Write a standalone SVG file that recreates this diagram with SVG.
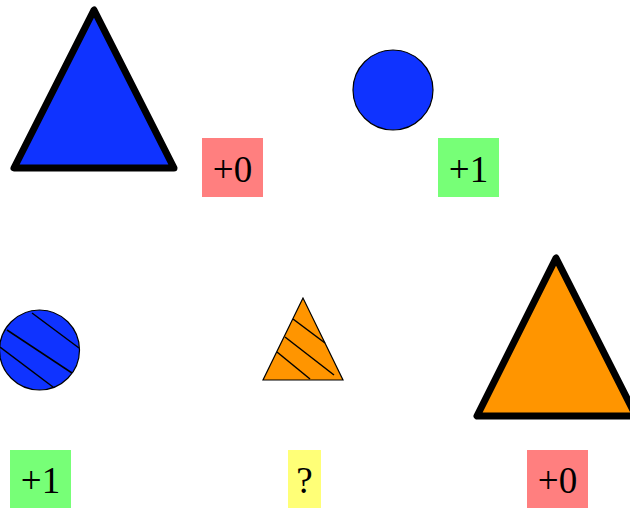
<svg xmlns="http://www.w3.org/2000/svg" width="630" height="508" viewBox="0 0 630 508">
<style>
.blue{fill:#0f33ff}
.orange{fill:#ff9500}
.thick{stroke:#000;stroke-width:7;stroke-linejoin:round}
.thin{stroke:#000;stroke-width:1.2}
.hatch{stroke:#000;stroke-width:1.5;fill:none}
.red{fill:#ff7f7f}
.green{fill:#77ff77}
.yellow{fill:#ffff77}
text{font-family:"Liberation Serif","Times New Roman",serif;font-size:37px;fill:#000;text-anchor:middle}
</style>
<rect width="630" height="508" fill="#fff"/>
<g id="tri-blue-big">
<polygon class="blue thick" points="94,10 14,168 174,168"/>
</g>
<g id="label-a">
<rect class="red" x="202" y="138" width="61" height="59"/>
<text x="232.5" y="182">+0</text>
</g>
<g id="circle-blue">
<circle class="blue thin" cx="393" cy="90" r="40"/>
</g>
<g id="label-b">
<rect class="green" x="438" y="138" width="61" height="59"/>
<text x="468.5" y="182">+1</text>
</g>
<g id="circle-hatched">
<circle class="blue thin" cx="39.5" cy="350" r="40"/>
<line class="hatch" x1="32" y1="313" x2="79" y2="348"/>
<line class="hatch" x1="7" y1="330" x2="72" y2="373"/>
<line class="hatch" x1="0" y1="347" x2="53" y2="387"/>
</g>
<g id="tri-hatched">
<polygon class="orange thin" points="303,298 263,380 343,380"/>
<line class="hatch" x1="293" y1="319" x2="325" y2="343"/>
<line class="hatch" x1="285" y1="337" x2="334" y2="375"/>
<line class="hatch" x1="277" y1="352" x2="310" y2="379"/>
</g>
<g id="tri-orange-big">
<polygon class="orange thick" points="556,258 477,416 636,416"/>
</g>
<g id="label-c">
<rect class="green" x="10" y="450" width="61" height="60"/>
<text x="40.5" y="493">+1</text>
</g>
<g id="label-d">
<rect class="yellow" x="288" y="450" width="33" height="60"/>
<text x="304.5" y="493">?</text>
</g>
<g id="label-e">
<rect class="red" x="527" y="450" width="61" height="60"/>
<text x="557.5" y="493">+0</text>
</g>
</svg>
